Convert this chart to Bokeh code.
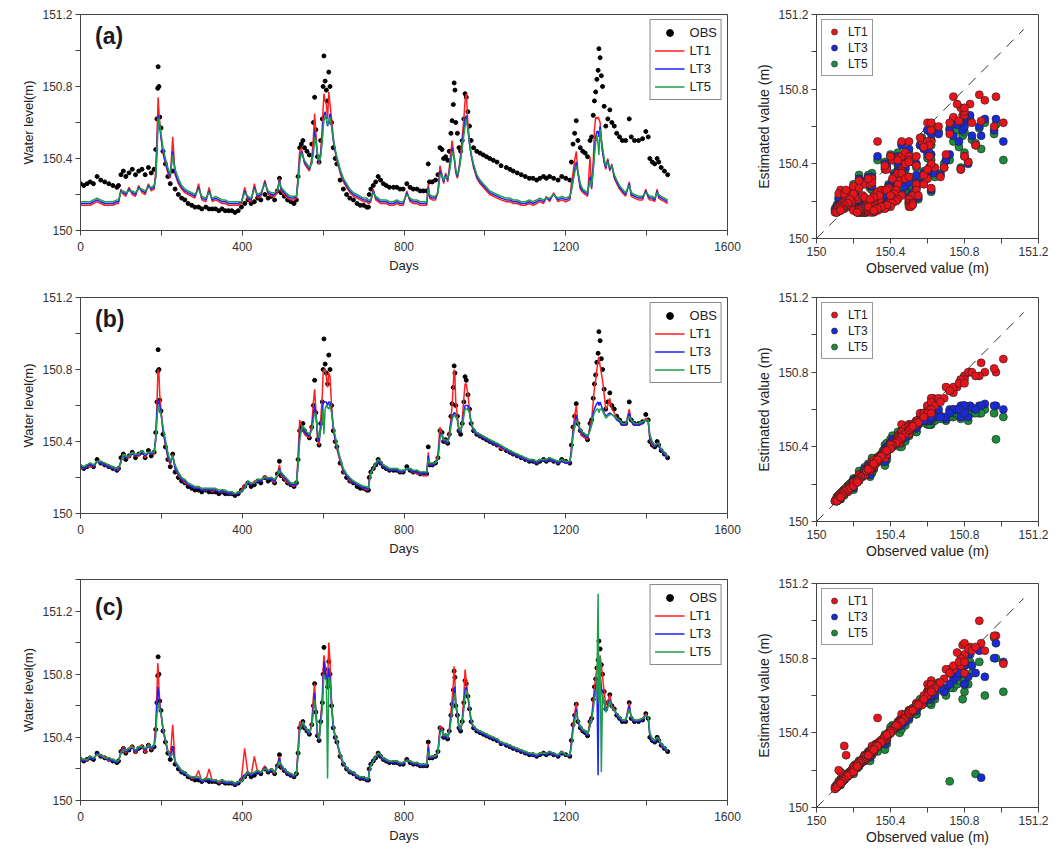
from bokeh.plotting import figure
from bokeh.models import (Range1d, FixedTicker, Legend, LegendItem, Label,
                          ColumnDataSource, CustomJSTickFormatter)
from bokeh.layouts import column, row
from bokeh.embed import file_html
from bokeh.resources import INLINE

FONT = "Liberation Sans"
RED, BLUE, GREEN = "#ff1f1f", "#1f1fff", "#1f9e4a"
S_RED, S_BLUE, S_GREEN = "#e8141c", "#1a2bd6", "#1d8a3c"

days = [
    0, 8, 16, 24, 32, 41, 50, 60, 70, 80,
    90, 94, 100, 106, 112, 120, 128, 136, 144, 152,
    160, 168, 175, 182, 186, 189, 191, 192, 194, 196,
    199, 204, 210, 216, 222, 228, 234, 242, 250, 258,
    266, 275, 283, 292, 300, 310, 318, 326, 334, 342,
    350, 358, 366, 374, 382, 390, 398, 406, 414, 422,
    430, 438, 446, 456, 464, 472, 480, 487, 492, 496,
    504, 512, 520, 528, 534, 538, 542, 546, 550, 554,
    560, 566, 572, 576, 579, 582, 586, 590, 594, 598,
    600, 602, 605, 608, 611, 614, 617, 621, 625, 630,
    634, 642, 650, 658, 666, 675, 684, 692, 700, 708,
    712, 714, 718, 724, 730, 736, 742, 749, 756, 764,
    774, 782, 790, 798, 807, 815, 823, 832, 840, 848,
    856, 860, 863, 870, 878, 884, 889, 894, 898, 903,
    908, 912, 916, 919, 922, 924, 926, 928, 932, 936,
    940, 944, 948, 951, 954, 958, 962, 966, 972, 980,
    988, 996, 1004, 1012, 1021, 1030, 1040, 1053, 1062, 1070,
    1080, 1090, 1100, 1110, 1119, 1128, 1136, 1145, 1152, 1160,
    1170, 1181, 1190, 1200, 1210, 1214, 1218, 1222, 1226, 1230,
    1236, 1242, 1248, 1254, 1260, 1264, 1268, 1271, 1274, 1277,
    1280, 1282, 1285, 1288, 1291, 1295, 1299, 1304, 1309, 1314,
    1320, 1326, 1333, 1340, 1348, 1357, 1362, 1370, 1380, 1390,
    1398, 1404, 1408, 1414, 1420, 1426, 1430, 1436, 1444, 1452,
]

obs = [
    150.26, 150.25, 150.26, 150.27, 150.26, 150.30, 150.28, 150.27, 150.26, 150.25,
    150.24, 150.25, 150.31, 150.33, 150.30, 150.32, 150.34, 150.31, 150.33, 150.34,
    150.31, 150.35, 150.32, 150.34, 150.45, 150.62, 150.79, 150.91, 150.80, 150.63,
    150.57, 150.44, 150.37, 150.30, 150.26, 150.33, 150.23, 150.20, 150.18, 150.17,
    150.15, 150.14, 150.13, 150.13, 150.12, 150.13, 150.12, 150.12, 150.12, 150.11,
    150.12, 150.11, 150.11, 150.11, 150.10, 150.11, 150.13, 150.15, 150.17, 150.15,
    150.16, 150.18, 150.17, 150.20, 150.18, 150.19, 150.17, 150.22, 150.29, 150.21,
    150.19, 150.17, 150.16, 150.15, 150.17, 150.30, 150.46, 150.48, 150.50, 150.46,
    150.44, 150.42, 150.48, 150.60, 150.74, 150.56, 150.41, 150.38, 150.50, 150.62,
    150.80, 150.97, 150.83, 150.78, 150.72, 150.88, 150.80, 150.60, 150.46, 150.40,
    150.37, 150.28, 150.23, 150.20, 150.18, 150.17, 150.15, 150.14, 150.14, 150.13,
    150.13, 150.20, 150.23, 150.25, 150.27, 150.30, 150.28, 150.26, 150.25, 150.24,
    150.24, 150.24, 150.23, 150.23, 150.26, 150.24, 150.23, 150.23, 150.22, 150.22,
    150.22, 150.37, 150.27, 150.27, 150.28, 150.31, 150.46, 150.45, 150.40, 150.41,
    150.39, 150.44, 150.54, 150.61, 150.70, 150.82, 150.78, 150.60, 150.54, 150.46,
    150.44, 150.50, 150.62, 150.76, 150.74, 150.66, 150.58, 150.50, 150.46, 150.44,
    150.43, 150.42, 150.41, 150.40, 150.39, 150.38, 150.36, 150.35, 150.34, 150.33,
    150.32, 150.31, 150.30, 150.29, 150.29, 150.28, 150.29, 150.30, 150.29, 150.30,
    150.29, 150.28, 150.30, 150.29, 150.28, 150.38, 150.48, 150.54, 150.61, 150.50,
    150.46, 150.44, 150.43, 150.41, 150.50, 150.52, 150.64, 150.72, 150.77, 150.84,
    150.89, 151.01, 150.96, 150.86, 150.80, 150.69, 150.58, 150.62, 150.67, 150.60,
    150.58, 150.54, 150.52, 150.50, 150.50, 150.62, 150.52, 150.50, 150.50, 150.51,
    150.55, 150.52, 150.40, 150.38, 150.37, 150.40, 150.38, 150.35, 150.33, 150.31,
]

# ---- panel (a) estimates
a_lt1 = [
    150.14, 150.14, 150.14, 150.14, 150.15, 150.16, 150.15, 150.14, 150.14, 150.14,
    150.15, 150.15, 150.23, 150.20, 150.19, 150.24, 150.20, 150.19, 150.25, 150.21,
    150.20, 150.26, 150.22, 150.23, 150.33, 150.52, 150.66, 150.74, 150.66, 150.60,
    150.52, 150.43, 150.37, 150.32, 150.29, 150.52, 150.31, 150.26, 150.23, 150.21,
    150.20, 150.19, 150.18, 150.26, 150.17, 150.16, 150.24, 150.16, 150.17, 150.16,
    150.15, 150.15, 150.14, 150.14, 150.14, 150.14, 150.15, 150.24, 150.17, 150.16,
    150.26, 150.18, 150.19, 150.28, 150.20, 150.19, 150.19, 150.21, 150.29, 150.22,
    150.20, 150.18, 150.17, 150.17, 150.18, 150.30, 150.44, 150.46, 150.42, 150.37,
    150.35, 150.33, 150.40, 150.52, 150.65, 150.54, 150.42, 150.37, 150.44, 150.58,
    150.68, 150.76, 150.72, 150.70, 150.62, 150.77, 150.70, 150.62, 150.52, 150.44,
    150.39, 150.32, 150.27, 150.24, 150.21, 150.19, 150.18, 150.17, 150.16, 150.16,
    150.15, 150.15, 150.16, 150.23, 150.17, 150.16, 150.15, 150.15, 150.15, 150.14,
    150.14, 150.15, 150.14, 150.14, 150.22, 150.16, 150.15, 150.15, 150.14, 150.14,
    150.14, 150.26, 150.18, 150.17, 150.17, 150.22, 150.36, 150.31, 150.26, 150.32,
    150.27, 150.35, 150.44, 150.50, 150.45, 150.41, 150.37, 150.32, 150.29, 150.35,
    150.42, 150.52, 150.62, 150.72, 150.76, 150.60, 150.49, 150.42, 150.35, 150.29,
    150.26, 150.24, 150.22, 150.20, 150.19, 150.18, 150.17, 150.16, 150.16, 150.15,
    150.15, 150.14, 150.14, 150.15, 150.14, 150.15, 150.16, 150.15, 150.19, 150.16,
    150.21, 150.16, 150.17, 150.16, 150.17, 150.26, 150.32, 150.39, 150.44, 150.33,
    150.23, 150.21, 150.20, 150.19, 150.41, 150.23, 150.38, 150.56, 150.63, 150.62,
    150.63, 150.62, 150.60, 150.50, 150.44, 150.38, 150.34, 150.40, 150.33, 150.37,
    150.29, 150.26, 150.23, 150.21, 150.19, 150.27, 150.19, 150.18, 150.17, 150.17,
    150.23, 150.18, 150.17, 150.17, 150.16, 150.23, 150.18, 150.17, 150.16, 150.15,
]
a_lt3 = [
    150.15, 150.15, 150.15, 150.15, 150.16, 150.17, 150.16, 150.15, 150.15, 150.15,
    150.16, 150.16, 150.22, 150.21, 150.20, 150.23, 150.21, 150.20, 150.24, 150.22,
    150.21, 150.25, 150.23, 150.24, 150.30, 150.45, 150.58, 150.64, 150.62, 150.58,
    150.52, 150.44, 150.38, 150.33, 150.30, 150.44, 150.32, 150.27, 150.24, 150.22,
    150.21, 150.20, 150.19, 150.24, 150.18, 150.17, 150.22, 150.17, 150.18, 150.17,
    150.16, 150.16, 150.15, 150.15, 150.15, 150.15, 150.16, 150.22, 150.18, 150.17,
    150.24, 150.19, 150.20, 150.27, 150.21, 150.20, 150.20, 150.22, 150.28, 150.23,
    150.21, 150.19, 150.18, 150.18, 150.19, 150.28, 150.40, 150.44, 150.41, 150.38,
    150.36, 150.34, 150.38, 150.45, 150.55, 150.50, 150.42, 150.38, 150.42, 150.52,
    150.60, 150.64, 150.66, 150.62, 150.58, 150.60, 150.65, 150.58, 150.50, 150.44,
    150.40, 150.33, 150.28, 150.25, 150.22, 150.20, 150.19, 150.18, 150.17, 150.17,
    150.16, 150.16, 150.17, 150.22, 150.18, 150.17, 150.16, 150.16, 150.16, 150.15,
    150.15, 150.16, 150.15, 150.15, 150.21, 150.17, 150.16, 150.16, 150.15, 150.15,
    150.15, 150.24, 150.19, 150.18, 150.18, 150.21, 150.33, 150.30, 150.27, 150.31,
    150.28, 150.33, 150.40, 150.46, 150.42, 150.40, 150.37, 150.33, 150.30, 150.34,
    150.40, 150.48, 150.56, 150.61, 150.64, 150.56, 150.48, 150.42, 150.36, 150.30,
    150.27, 150.25, 150.23, 150.21, 150.20, 150.19, 150.18, 150.17, 150.17, 150.16,
    150.16, 150.15, 150.15, 150.16, 150.15, 150.16, 150.17, 150.16, 150.18, 150.17,
    150.20, 150.17, 150.18, 150.17, 150.18, 150.23, 150.28, 150.34, 150.38, 150.32,
    150.24, 150.22, 150.21, 150.20, 150.30, 150.24, 150.35, 150.45, 150.52, 150.55,
    150.55, 150.52, 150.58, 150.50, 150.44, 150.38, 150.35, 150.39, 150.34, 150.36,
    150.30, 150.27, 150.24, 150.22, 150.20, 150.26, 150.20, 150.19, 150.18, 150.18,
    150.22, 150.19, 150.18, 150.18, 150.17, 150.22, 150.19, 150.18, 150.17, 150.16,
]
a_lt5 = [
    150.16, 150.16, 150.16, 150.16, 150.17, 150.18, 150.17, 150.16, 150.16, 150.16,
    150.17, 150.17, 150.21, 150.22, 150.21, 150.22, 150.22, 150.21, 150.23, 150.23,
    150.22, 150.24, 150.24, 150.25, 150.29, 150.42, 150.55, 150.62, 150.62, 150.59,
    150.54, 150.46, 150.40, 150.35, 150.31, 150.42, 150.34, 150.29, 150.25, 150.23,
    150.22, 150.21, 150.20, 150.23, 150.19, 150.18, 150.21, 150.18, 150.19, 150.18,
    150.17, 150.17, 150.16, 150.16, 150.16, 150.16, 150.16, 150.21, 150.19, 150.18,
    150.23, 150.20, 150.21, 150.26, 150.22, 150.21, 150.21, 150.22, 150.27, 150.24,
    150.22, 150.20, 150.19, 150.19, 150.19, 150.26, 150.38, 150.43, 150.41, 150.39,
    150.37, 150.35, 150.37, 150.43, 150.52, 150.50, 150.43, 150.39, 150.41, 150.50,
    150.57, 150.61, 150.64, 150.62, 150.59, 150.59, 150.63, 150.58, 150.51, 150.45,
    150.41, 150.34, 150.29, 150.26, 150.23, 150.21, 150.20, 150.19, 150.18, 150.18,
    150.17, 150.17, 150.17, 150.21, 150.19, 150.18, 150.17, 150.17, 150.17, 150.16,
    150.16, 150.17, 150.16, 150.16, 150.20, 150.18, 150.17, 150.17, 150.16, 150.16,
    150.16, 150.23, 150.20, 150.19, 150.19, 150.21, 150.31, 150.31, 150.28, 150.30,
    150.29, 150.32, 150.38, 150.44, 150.42, 150.41, 150.38, 150.34, 150.31, 150.33,
    150.39, 150.46, 150.53, 150.58, 150.62, 150.57, 150.49, 150.43, 150.37, 150.31,
    150.28, 150.26, 150.24, 150.22, 150.21, 150.20, 150.19, 150.18, 150.18, 150.17,
    150.17, 150.16, 150.16, 150.17, 150.16, 150.17, 150.18, 150.17, 150.18, 150.18,
    150.20, 150.18, 150.19, 150.18, 150.19, 150.22, 150.27, 150.32, 150.36, 150.33,
    150.26, 150.23, 150.22, 150.21, 150.28, 150.25, 150.33, 150.42, 150.49, 150.53,
    150.48, 150.42, 150.56, 150.51, 150.46, 150.40, 150.36, 150.38, 150.35, 150.36,
    150.31, 150.28, 150.25, 150.23, 150.21, 150.25, 150.21, 150.20, 150.19, 150.19,
    150.21, 150.20, 150.19, 150.19, 150.18, 150.21, 150.20, 150.19, 150.18, 150.17,
]

# ---- panel (b) estimates
b_lt1 = [
    150.25, 150.25, 150.26, 150.26, 150.26, 150.29, 150.28, 150.27, 150.26, 150.25,
    150.24, 150.24, 150.29, 150.33, 150.31, 150.31, 150.34, 150.32, 150.32, 150.35,
    150.31, 150.34, 150.33, 150.33, 150.42, 150.60, 150.76, 150.80, 150.78, 150.66,
    150.58, 150.46, 150.38, 150.31, 150.27, 150.33, 150.25, 150.21, 150.19, 150.17,
    150.16, 150.15, 150.14, 150.15, 150.13, 150.13, 150.14, 150.12, 150.13, 150.12,
    150.12, 150.12, 150.11, 150.11, 150.11, 150.11, 150.13, 150.16, 150.17, 150.16,
    150.18, 150.18, 150.18, 150.21, 150.19, 150.19, 150.17, 150.22, 150.27, 150.21,
    150.19, 150.17, 150.16, 150.15, 150.16, 150.32, 150.52, 150.49, 150.47, 150.44,
    150.43, 150.42, 150.50, 150.62, 150.69, 150.58, 150.42, 150.38, 150.52, 150.66,
    150.78, 150.80, 150.80, 150.76, 150.70, 150.78, 150.76, 150.60, 150.47, 150.40,
    150.36, 150.29, 150.23, 150.21, 150.18, 150.17, 150.16, 150.15, 150.14, 150.13,
    150.13, 150.19, 150.23, 150.25, 150.27, 150.29, 150.28, 150.26, 150.25, 150.24,
    150.24, 150.24, 150.23, 150.23, 150.25, 150.24, 150.23, 150.22, 150.22, 150.21,
    150.21, 150.34, 150.27, 150.27, 150.28, 150.33, 150.48, 150.44, 150.40, 150.40,
    150.39, 150.45, 150.52, 150.60, 150.72, 150.80, 150.76, 150.62, 150.54, 150.46,
    150.45, 150.52, 150.64, 150.72, 150.72, 150.66, 150.58, 150.50, 150.46, 150.44,
    150.43, 150.42, 150.41, 150.40, 150.39, 150.38, 150.36, 150.35, 150.34, 150.33,
    150.32, 150.31, 150.30, 150.29, 150.29, 150.28, 150.29, 150.30, 150.29, 150.30,
    150.29, 150.28, 150.29, 150.28, 150.28, 150.36, 150.47, 150.54, 150.60, 150.51,
    150.45, 150.43, 150.42, 150.41, 150.49, 150.52, 150.62, 150.70, 150.74, 150.80,
    150.85, 150.87, 150.82, 150.78, 150.74, 150.66, 150.58, 150.60, 150.64, 150.58,
    150.56, 150.53, 150.51, 150.49, 150.49, 150.58, 150.51, 150.49, 150.49, 150.50,
    150.53, 150.51, 150.41, 150.38, 150.37, 150.39, 150.38, 150.35, 150.33, 150.31,
]
b_lt3 = [
    150.26, 150.25, 150.26, 150.27, 150.26, 150.29, 150.28, 150.27, 150.26, 150.25,
    150.24, 150.25, 150.29, 150.32, 150.31, 150.32, 150.33, 150.32, 150.33, 150.34,
    150.32, 150.34, 150.33, 150.34, 150.42, 150.56, 150.62, 150.63, 150.62, 150.60,
    150.56, 150.46, 150.39, 150.32, 150.28, 150.32, 150.25, 150.22, 150.19, 150.18,
    150.16, 150.15, 150.14, 150.14, 150.13, 150.13, 150.13, 150.13, 150.13, 150.12,
    150.12, 150.12, 150.11, 150.11, 150.11, 150.11, 150.12, 150.15, 150.17, 150.16,
    150.17, 150.18, 150.18, 150.20, 150.19, 150.19, 150.18, 150.21, 150.25, 150.22,
    150.20, 150.18, 150.16, 150.16, 150.16, 150.28, 150.44, 150.47, 150.48, 150.45,
    150.44, 150.43, 150.47, 150.55, 150.60, 150.56, 150.44, 150.40, 150.48, 150.56,
    150.62, 150.62, 150.62, 150.62, 150.60, 150.62, 150.62, 150.57, 150.48, 150.41,
    150.37, 150.30, 150.24, 150.21, 150.19, 150.17, 150.16, 150.15, 150.14, 150.14,
    150.13, 150.18, 150.22, 150.25, 150.27, 150.29, 150.28, 150.26, 150.25, 150.24,
    150.24, 150.24, 150.23, 150.23, 150.25, 150.24, 150.23, 150.23, 150.22, 150.22,
    150.22, 150.32, 150.27, 150.27, 150.28, 150.31, 150.44, 150.44, 150.40, 150.40,
    150.39, 150.43, 150.50, 150.54, 150.55, 150.56, 150.56, 150.54, 150.52, 150.46,
    150.45, 150.50, 150.56, 150.60, 150.60, 150.60, 150.56, 150.50, 150.46, 150.44,
    150.43, 150.42, 150.41, 150.40, 150.39, 150.38, 150.37, 150.35, 150.34, 150.33,
    150.32, 150.31, 150.30, 150.29, 150.29, 150.28, 150.29, 150.30, 150.29, 150.30,
    150.29, 150.28, 150.29, 150.28, 150.28, 150.35, 150.45, 150.50, 150.54, 150.50,
    150.46, 150.44, 150.43, 150.42, 150.47, 150.50, 150.56, 150.58, 150.60, 150.61,
    150.62, 150.60, 150.62, 150.60, 150.58, 150.56, 150.54, 150.55, 150.56, 150.55,
    150.54, 150.52, 150.51, 150.49, 150.49, 150.56, 150.51, 150.49, 150.49, 150.50,
    150.52, 150.51, 150.42, 150.39, 150.37, 150.39, 150.38, 150.35, 150.33, 150.31,
]
b_lt5 = [
    150.27, 150.26, 150.27, 150.28, 150.27, 150.29, 150.29, 150.28, 150.27, 150.26,
    150.25, 150.26, 150.28, 150.33, 150.32, 150.32, 150.34, 150.33, 150.33, 150.35,
    150.33, 150.34, 150.34, 150.34, 150.40, 150.52, 150.58, 150.60, 150.58, 150.57,
    150.55, 150.48, 150.41, 150.34, 150.29, 150.32, 150.27, 150.23, 150.20, 150.19,
    150.17, 150.16, 150.15, 150.15, 150.14, 150.14, 150.14, 150.14, 150.14, 150.13,
    150.13, 150.13, 150.12, 150.12, 150.11, 150.12, 150.12, 150.14, 150.18, 150.17,
    150.17, 150.19, 150.19, 150.20, 150.20, 150.20, 150.19, 150.21, 150.24, 150.23,
    150.21, 150.19, 150.17, 150.17, 150.17, 150.26, 150.40, 150.46, 150.49, 150.47,
    150.45, 150.44, 150.46, 150.52, 150.56, 150.55, 150.46, 150.42, 150.46, 150.52,
    150.58, 150.44, 150.58, 150.60, 150.59, 150.58, 150.60, 150.56, 150.49, 150.43,
    150.38, 150.31, 150.25, 150.22, 150.20, 150.18, 150.17, 150.16, 150.15, 150.15,
    150.14, 150.17, 150.22, 150.25, 150.28, 150.30, 150.29, 150.27, 150.26, 150.25,
    150.25, 150.25, 150.24, 150.24, 150.25, 150.25, 150.24, 150.24, 150.23, 150.23,
    150.23, 150.30, 150.28, 150.28, 150.28, 150.30, 150.42, 150.44, 150.41, 150.41,
    150.40, 150.42, 150.48, 150.52, 150.54, 150.54, 150.55, 150.54, 150.52, 150.47,
    150.46, 150.49, 150.54, 150.58, 150.58, 150.58, 150.56, 150.51, 150.47, 150.45,
    150.44, 150.43, 150.42, 150.41, 150.40, 150.39, 150.38, 150.36, 150.35, 150.34,
    150.33, 150.32, 150.31, 150.30, 150.30, 150.29, 150.30, 150.30, 150.30, 150.31,
    150.30, 150.29, 150.30, 150.29, 150.29, 150.33, 150.43, 150.48, 150.52, 150.50,
    150.47, 150.45, 150.44, 150.43, 150.46, 150.49, 150.54, 150.56, 150.57, 150.58,
    150.58, 150.56, 150.58, 150.58, 150.57, 150.55, 150.53, 150.54, 150.55, 150.55,
    150.54, 150.53, 150.52, 150.50, 150.50, 150.54, 150.52, 150.50, 150.50, 150.51,
    150.52, 150.52, 150.44, 150.40, 150.38, 150.39, 150.39, 150.36, 150.34, 150.32,
]

# ---- panel (c) estimates
c_lt1 = [
    150.25, 150.26, 150.25, 150.27, 150.27, 150.29, 150.28, 150.28, 150.25, 150.26,
    150.24, 150.25, 150.31, 150.34, 150.30, 150.33, 150.35, 150.30, 150.34, 150.35,
    150.30, 150.36, 150.32, 150.35, 150.47, 150.68, 150.87, 150.84, 150.72, 150.62,
    150.55, 150.45, 150.37, 150.31, 150.28, 150.48, 150.24, 150.21, 150.18, 150.17,
    150.16, 150.14, 150.14, 150.19, 150.12, 150.13, 150.20, 150.12, 150.13, 150.11,
    150.12, 150.12, 150.11, 150.11, 150.10, 150.11, 150.14, 150.33, 150.17, 150.16,
    150.28, 150.18, 150.18, 150.22, 150.18, 150.20, 150.17, 150.23, 150.28, 150.21,
    150.19, 150.17, 150.16, 150.15, 150.17, 150.33, 150.50, 150.48, 150.50, 150.46,
    150.44, 150.42, 150.50, 150.66, 150.74, 150.56, 150.41, 150.38, 150.52, 150.66,
    150.82, 150.92, 150.86, 150.80, 150.74, 151.00, 150.88, 150.62, 150.47, 150.40,
    150.37, 150.28, 150.23, 150.20, 150.18, 150.17, 150.15, 150.14, 150.14, 150.13,
    150.13, 150.19, 150.23, 150.25, 150.28, 150.30, 150.28, 150.26, 150.25, 150.25,
    150.24, 150.25, 150.23, 150.24, 150.26, 150.25, 150.23, 150.24, 150.22, 150.23,
    150.22, 150.36, 150.27, 150.28, 150.28, 150.31, 150.47, 150.46, 150.40, 150.42,
    150.39, 150.45, 150.56, 150.64, 150.74, 150.85, 150.76, 150.60, 150.54, 150.46,
    150.45, 150.52, 150.66, 150.83, 150.76, 150.66, 150.58, 150.50, 150.46, 150.45,
    150.43, 150.43, 150.41, 150.41, 150.39, 150.39, 150.36, 150.36, 150.34, 150.33,
    150.33, 150.31, 150.30, 150.30, 150.29, 150.28, 150.30, 150.30, 150.30, 150.30,
    150.29, 150.28, 150.31, 150.29, 150.28, 150.37, 150.48, 150.55, 150.62, 150.50,
    150.46, 150.44, 150.44, 150.41, 150.51, 150.52, 150.64, 150.72, 150.78, 150.84,
    150.88, 150.77, 150.92, 150.86, 150.78, 150.69, 150.60, 150.63, 150.67, 150.60,
    150.58, 150.55, 150.52, 150.51, 150.50, 150.62, 150.52, 150.50, 150.51, 150.52,
    150.55, 150.52, 150.41, 150.38, 150.38, 150.40, 150.39, 150.35, 150.33, 150.31,
]
c_lt3 = [
    150.26, 150.25, 150.26, 150.27, 150.26, 150.30, 150.28, 150.27, 150.26, 150.25,
    150.24, 150.25, 150.30, 150.33, 150.31, 150.32, 150.34, 150.31, 150.33, 150.34,
    150.32, 150.35, 150.33, 150.34, 150.44, 150.60, 150.72, 150.70, 150.66, 150.60,
    150.56, 150.45, 150.38, 150.31, 150.27, 150.34, 150.24, 150.21, 150.18, 150.17,
    150.15, 150.15, 150.14, 150.14, 150.12, 150.13, 150.13, 150.12, 150.12, 150.12,
    150.12, 150.11, 150.11, 150.11, 150.10, 150.11, 150.13, 150.16, 150.17, 150.16,
    150.17, 150.18, 150.17, 150.21, 150.18, 150.19, 150.18, 150.22, 150.27, 150.22,
    150.19, 150.17, 150.16, 150.15, 150.17, 150.30, 150.46, 150.48, 150.50, 150.46,
    150.44, 150.42, 150.48, 150.60, 150.68, 150.56, 150.42, 150.38, 150.50, 150.62,
    150.76, 150.88, 150.82, 150.78, 150.72, 150.84, 150.78, 150.60, 150.46, 150.40,
    150.37, 150.29, 150.23, 150.20, 150.18, 150.17, 150.15, 150.14, 150.14, 150.13,
    150.13, 150.19, 150.23, 150.25, 150.27, 150.30, 150.28, 150.26, 150.25, 150.24,
    150.24, 150.24, 150.23, 150.23, 150.26, 150.24, 150.23, 150.23, 150.22, 150.22,
    150.22, 150.34, 150.27, 150.27, 150.28, 150.31, 150.44, 150.45, 150.40, 150.41,
    150.39, 150.44, 150.52, 150.58, 150.64, 150.70, 150.72, 150.62, 150.54, 150.46,
    150.44, 150.50, 150.60, 150.70, 150.72, 150.66, 150.58, 150.50, 150.46, 150.44,
    150.43, 150.42, 150.41, 150.40, 150.39, 150.38, 150.36, 150.35, 150.34, 150.33,
    150.32, 150.31, 150.30, 150.29, 150.29, 150.28, 150.29, 150.30, 150.29, 150.30,
    150.29, 150.28, 150.30, 150.29, 150.28, 150.36, 150.46, 150.52, 150.58, 150.50,
    150.46, 150.44, 150.43, 150.41, 150.48, 150.52, 150.60, 150.66, 150.72, 150.76,
    150.16, 150.78, 150.80, 150.72, 150.66, 150.62, 150.56, 150.60, 150.64, 150.59,
    150.57, 150.54, 150.52, 150.50, 150.50, 150.60, 150.52, 150.50, 150.50, 150.51,
    150.54, 150.52, 150.41, 150.38, 150.37, 150.40, 150.38, 150.35, 150.33, 150.31,
]
c_lt5 = [
    150.27, 150.26, 150.26, 150.28, 150.27, 150.29, 150.29, 150.27, 150.27, 150.26,
    150.25, 150.25, 150.30, 150.32, 150.32, 150.33, 150.34, 150.32, 150.34, 150.34,
    150.33, 150.35, 150.34, 150.35, 150.40, 150.55, 150.58, 150.60, 150.62, 150.58,
    150.55, 150.46, 150.39, 150.32, 150.28, 150.30, 150.25, 150.22, 150.19, 150.18,
    150.16, 150.15, 150.15, 150.15, 150.13, 150.14, 150.14, 150.13, 150.13, 150.12,
    150.13, 150.12, 150.12, 150.12, 150.11, 150.12, 150.12, 150.15, 150.18, 150.17,
    150.18, 150.19, 150.18, 150.20, 150.19, 150.20, 150.18, 150.21, 150.25, 150.23,
    150.20, 150.18, 150.17, 150.16, 150.17, 150.28, 150.44, 150.47, 150.50, 150.47,
    150.45, 150.43, 150.47, 150.56, 150.64, 150.58, 150.44, 150.39, 150.48, 150.58,
    150.70, 150.80, 150.78, 150.76, 150.14, 150.78, 150.76, 150.62, 150.48, 150.41,
    150.38, 150.30, 150.24, 150.21, 150.19, 150.18, 150.16, 150.15, 150.15, 150.14,
    150.14, 150.18, 150.22, 150.25, 150.28, 150.30, 150.29, 150.27, 150.26, 150.25,
    150.25, 150.25, 150.24, 150.24, 150.25, 150.25, 150.24, 150.24, 150.23, 150.23,
    150.23, 150.31, 150.28, 150.28, 150.28, 150.30, 150.42, 150.45, 150.41, 150.42,
    150.40, 150.43, 150.50, 150.56, 150.60, 150.66, 150.68, 150.62, 150.55, 150.47,
    150.45, 150.50, 150.58, 150.66, 150.70, 150.67, 150.59, 150.51, 150.47, 150.45,
    150.44, 150.43, 150.42, 150.41, 150.40, 150.39, 150.37, 150.36, 150.35, 150.34,
    150.33, 150.32, 150.31, 150.30, 150.30, 150.29, 150.30, 150.30, 150.30, 150.31,
    150.30, 150.29, 150.31, 150.29, 150.29, 150.34, 150.44, 150.50, 150.56, 150.52,
    150.47, 150.45, 150.44, 150.42, 150.47, 150.51, 150.58, 150.64, 150.68, 150.72,
    151.31, 150.62, 150.91, 150.18, 150.68, 150.62, 150.56, 150.59, 150.63, 150.59,
    150.57, 150.55, 150.53, 150.51, 150.51, 150.58, 150.53, 150.51, 150.51, 150.52,
    150.54, 150.53, 150.43, 150.39, 150.38, 150.40, 150.39, 150.36, 150.34, 150.32,
]

panel_tags = ["(a)", "(b)", "(c)"]
series_names = ["OBS", "LT1", "LT3", "LT5"]
x_ticks = [0, 400, 800, 1200, 1600]
x_minor = [200, 600, 1000, 1400]
y_ticks = [150, 150.4, 150.8, 151.2]
y_minor = [150.2, 150.6, 151.0, 151.4]
diag_line = [150.0, 151.12]

fmt = CustomJSTickFormatter(code="var s = tick.toFixed(1); return s.endsWith('.0') ? s.slice(0, -2) : s;")


def style_axes(p, label_size, x_std, x_lab_std):
    for ax in (p.xaxis[0], p.yaxis[0]):
        ax.major_label_text_font = FONT
        ax.major_label_text_font_size = "12px"
        ax.major_label_text_color = "#333333"
        ax.axis_label_text_font = FONT
        ax.axis_label_text_font_size = label_size
        ax.axis_label_text_font_style = "normal"
        ax.axis_label_text_color = "#222222"
        ax.axis_line_color = "#444444"
        ax.major_tick_line_color = "#444444"
        ax.minor_tick_line_color = "#444444"
        ax.major_tick_in = 0
        ax.major_tick_out = 5
        ax.minor_tick_in = 0
        ax.minor_tick_out = 5
        ax.major_label_standoff = 3
        ax.axis_label_standoff = 3
    p.xaxis[0].major_label_standoff = x_std
    p.xaxis[0].axis_label_standoff = x_lab_std
    p.xgrid.visible = False
    p.ygrid.visible = False
    p.outline_line_color = "#444444"
    p.outline_line_width = 1
    p.background_fill_color = "white"
    p.border_fill_color = "white"


def make_ts(l1, l3, l5, tag, ytop, tag_y, w, h, bl, br, bt, bb):
    p = figure(width=w, height=h, x_range=Range1d(0, 1600), y_range=Range1d(150, ytop),
               output_backend="svg", toolbar_location=None,
               min_border_left=bl, min_border_right=br, min_border_top=bt, min_border_bottom=bb,
               x_axis_label="Days", y_axis_label="Water level(m)")
    src = ColumnDataSource(dict(day=days, obs=obs, l1=l1, l3=l3, l5=l5))
    r_obs = p.scatter("day", "obs", source=src, size=4, color="black")
    r1 = p.line("day", "l1", source=src, color=RED, line_width=1.5)
    r3 = p.line("day", "l3", source=src, color=BLUE, line_width=1.5)
    r5 = p.line("day", "l5", source=src, color=GREEN, line_width=1.5)
    p.xaxis.ticker = FixedTicker(ticks=x_ticks, minor_ticks=x_minor)
    p.yaxis.ticker = FixedTicker(ticks=y_ticks, minor_ticks=[v for v in y_minor if v <= ytop])
    p.yaxis.formatter = fmt
    style_axes(p, "13px", 6, 4)
    leg = Legend(items=[LegendItem(label=n, renderers=[r]) for n, r in
                        zip(series_names, [r_obs, r1, r3, r5])],
                 location="top_right")
    leg.label_text_font = FONT
    leg.label_text_font_size = "13px"
    leg.label_text_color = "#222222"
    leg.glyph_width = 30
    leg.glyph_height = 17
    leg.label_height = 17
    leg.spacing = 1
    leg.padding = 4
    leg.margin = 5
    leg.label_standoff = 5
    leg.border_line_color = "#111111"
    leg.border_line_width = 1
    leg.background_fill_alpha = 1.0
    p.add_layout(leg)
    p.add_layout(Label(x=36, y=tag_y, text=tag, text_font=FONT, text_font_size="23px",
                       text_font_style="bold", text_baseline="middle", text_color="#1a1a22"))
    return p


def make_sc(l1, l3, l5, w, h, bl, br, bt, bb):
    p = figure(width=w, height=h, x_range=Range1d(150, 151.2), y_range=Range1d(150, 151.2),
               output_backend="svg", toolbar_location=None,
               min_border_left=bl, min_border_right=br, min_border_top=bt, min_border_bottom=bb,
               x_axis_label="Observed value (m)", y_axis_label="Estimated value (m)")
    p.line(diag_line, diag_line, line_dash="10 8", color="#333333", line_width=1)
    src = ColumnDataSource(dict(obs=obs, l1=l1, l3=l3, l5=l5))
    g5 = p.scatter("obs", "l5", source=src, size=8, fill_color=S_GREEN, line_color="#222222", line_width=0.6)
    g3 = p.scatter("obs", "l3", source=src, size=8, fill_color=S_BLUE, line_color="#222222", line_width=0.6)
    g1 = p.scatter("obs", "l1", source=src, size=8, fill_color=S_RED, line_color="#222222", line_width=0.6)
    p.xaxis.ticker = FixedTicker(ticks=y_ticks, minor_ticks=y_minor[:3])
    p.yaxis.ticker = FixedTicker(ticks=y_ticks, minor_ticks=y_minor[:3])
    p.xaxis.formatter = fmt
    p.yaxis.formatter = fmt
    style_axes(p, "14px", 3, 1)
    leg = Legend(items=[LegendItem(label=n, renderers=[r]) for n, r in
                        zip(series_names[1:], [g1, g3, g5])],
                 location="top_left")
    leg.label_text_font = FONT
    leg.label_text_font_size = "12px"
    leg.label_text_color = "#222222"
    leg.glyph_width = 16
    leg.glyph_height = 15
    leg.label_height = 15
    leg.spacing = 1
    leg.padding = 4
    leg.margin = 5
    leg.label_standoff = 6
    leg.border_line_color = "#333333"
    leg.border_line_width = 1.5
    leg.background_fill_alpha = 1.0
    p.add_layout(leg)
    return p


LW, RW = 753, 295
pa = make_ts(a_lt1, a_lt3, a_lt5, panel_tags[0], 151.2, 151.08, LW, 288, 80, 26, 14, 58)
pb = make_ts(b_lt1, b_lt3, b_lt5, panel_tags[1], 151.2, 151.08, LW, 283, 80, 26, 9, 58)
pc = make_ts(c_lt1, c_lt3, c_lt5, panel_tags[2], 151.4, 151.225, LW, 280, 77, 18, 8, 51)
sa = make_sc(a_lt1, a_lt3, a_lt5, RW, 283, 62, 10, 14, 45)
sb = make_sc(b_lt1, b_lt3, b_lt5, RW, 283, 62, 10, 14, 45)
sc = make_sc(c_lt1, c_lt3, c_lt5, RW, 285, 62, 10, 17, 44)

layout = row(column(pa, pb, pc), column(sa, sb, sc))
open("out.html", "w").write(file_html(layout, INLINE))
